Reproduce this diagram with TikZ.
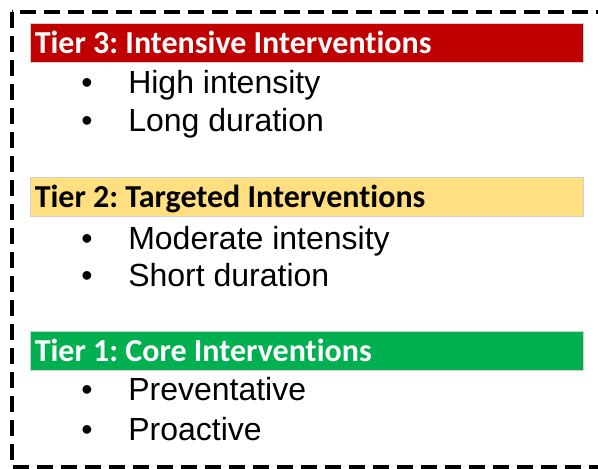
\documentclass[tikz,border=0pt]{standalone}
\usepackage{fontspec}
\setmainfont{Liberation Sans}
\newfontfamily\headfont{Carlito}[Ligatures={NoCommon}]
\definecolor{tierred}{HTML}{C00000}
\definecolor{tieryellow}{HTML}{FFDF7F}
\definecolor{tiergreen}{HTML}{00B050}
\definecolor{baredge}{HTML}{D0D0D0}
\frenchspacing

\begin{document}
\begin{tikzpicture}[x=0.75pt, y=-0.75pt,
  tierbar/.style={draw=baredge, line width=0.4pt, inner sep=0pt, anchor=north west,
    minimum width=553*0.75pt, minimum height=39*0.75pt},
  tiertext/.style={inner sep=0pt, anchor=base west,
    font=\headfont\bfseries\fontsize{24}{28}\selectfont},
  dot/.style={inner sep=0pt, anchor=base west, font=\fontsize{24}{28}\selectfont},
  item/.style={inner sep=0pt, anchor=base west, font=\fontsize{24}{28}\selectfont}]

\useasboundingbox (0,0) rectangle (598,468);

%% Outer box %%
\draw[line width=3pt, dash pattern=on 12pt off 6pt] (12,12) rectangle (601.2,467);

%% Tier 3 %%
\node[tierbar, fill=tierred] (bar3) at (30,23) {};
\node[tiertext, text=white] (head3) at (34.5,53.3) {Tier 3: Intensive Interventions};
\node[dot] (dot3a) at (81,93.3) {•};
\node[item] (item3a) at (128,93.3) {High intensity};
\node[dot] (dot3b) at (81,131.7) {•};
\node[item] (item3b) at (128,131.7) {Long duration};

%% Tier 2 %%
\node[tierbar, fill=tieryellow] (bar2) at (30,177) {};
\node[tiertext, text=black] (head2) at (34.5,207.3) {Tier 2: Targeted Interventions};
\node[dot] (dot2a) at (81,249) {•};
\node[item] (item2a) at (128,249) {Moderate intensity};
\node[dot] (dot2b) at (81,286.7) {•};
\node[item] (item2b) at (128,286.7) {Short duration};

%% Tier 1 %%
\node[tierbar, fill=tiergreen] (bar1) at (30,331) {};
\node[tiertext, text=white] (head1) at (34.5,361.7) {Tier 1: Core Interventions};
\node[dot] (dot1a) at (81,400) {•};
\node[item] (item1a) at (128,400) {Preventative};
\node[dot] (dot1b) at (81,440) {•};
\node[item] (item1b) at (128,440) {Proactive};

\end{tikzpicture}
\end{document}
